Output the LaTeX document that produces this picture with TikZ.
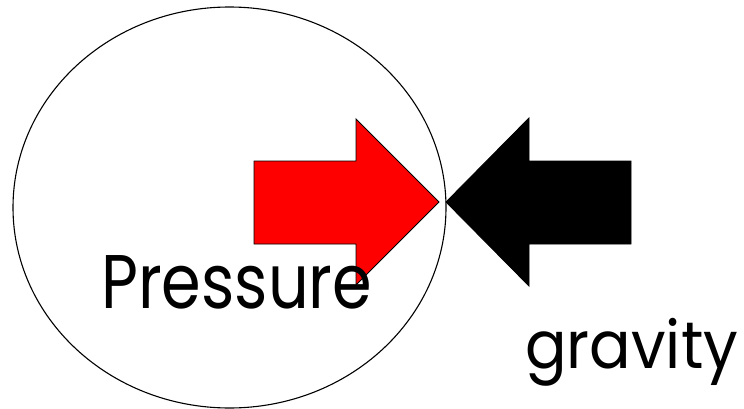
\documentclass[tikz,border=0pt]{standalone}
\usepackage{fontspec}
\setmainfont{Poppins}
\begin{document}
\begin{tikzpicture}[x=1pt,y=-1pt,
  outline/.style={draw=black,line width=0.9pt},
  lbl/.style={inner sep=0pt,anchor=base west,font=\fontsize{76}{86}\selectfont}]
\useasboundingbox (0,0) rectangle (744,409);
\draw[line width=1.1pt] (229.5,207.5) ellipse [x radius=216.5, y radius=200.5];
% red arrow (pressure)
\draw[outline,fill=red] (254,161) -- (356,161) -- (356,119) -- (439,202) -- (356,285) -- (356,244) -- (254,244) -- cycle;
% black arrow (gravity)
\draw[outline,fill=black] (446,202) -- (529,118) -- (529,161) -- (631,161) -- (631,244) -- (529,244) -- (529,286) -- cycle;
\node[lbl] (pressure) at (101,308) {\resizebox{271pt}{\height}{Pressure}};
\node[lbl,font=\fontsize{66}{76}\selectfont] (gravity) at (525,368) {\resizebox{213pt}{\height}{gravity}};
\end{tikzpicture}
\end{document}
